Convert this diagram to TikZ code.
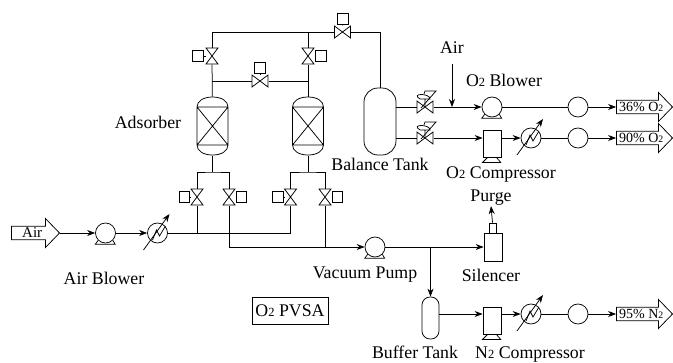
\documentclass[tikz,border=0pt]{standalone}
\usepackage{amsmath}
\usepackage{fontspec}
\setmainfont{Liberation Serif}
\usetikzlibrary{shapes,arrows.meta,positioning}

\newcommand{\twosub}{\scalebox{0.7}{2}}

\begin{document}
\begin{tikzpicture}[x=1pt, y=-1pt, line width=0.75pt, line join=miter]
    % Define styles
    \tikzstyle{arrow} = [-{Stealth[length=8pt,width=6pt]}]
    \tikzstyle{caption} = [inner sep=0pt, font=\fontsize{17.8}{20}\selectfont]
    \tikzstyle{stream} = [draw, single arrow, single arrow tip angle=92, single arrow head extend=6pt, inner sep=0pt, anchor=tip, font=\fontsize{14}{15}\selectfont]
    \tikzstyle{vvalve} = [inner sep=0pt, outer sep=-0.5pt, minimum width=14pt, minimum height=18pt, path picture={
        \draw[shift={(path picture bounding box.center)}, x=1pt, y=1pt] (-6,8) -- (6,8) -- (-6,-8) -- (6,-8) -- cycle;}]
    \tikzstyle{hvalve} = [inner sep=0pt, outer sep=-0.5pt, minimum width=18pt, minimum height=14pt, path picture={
        \draw[shift={(path picture bounding box.center)}, x=1pt, y=1pt] (-8,6) -- (-8,-6) -- (8,6) -- (8,-6) -- cycle;}]
    \tikzstyle{actuator} = [draw, rectangle, fill=white, inner sep=0pt, minimum size=10.5pt]
    \tikzstyle{adsorber} = [inner sep=0pt, outer sep=-0.5pt, minimum width=33pt, minimum height=60pt, path picture={
        \draw[shift={(path picture bounding box.center)}, x=1pt, y=1pt]
            (-15.5,19) .. controls (-15.5,25) and (-9,29) .. (0,29) .. controls (9,29) and (15.5,25) .. (15.5,19)
            -- (15.5,-19) .. controls (15.5,-25) and (9,-29) .. (0,-29) .. controls (-9,-29) and (-15.5,-25) .. (-15.5,-19) -- cycle
            (-15.5,19) -- (15.5,19) (-15.5,-19) -- (15.5,-19)
            (-15.5,19) -- (15.5,-19) (-15.5,-19) -- (15.5,19);}]
    \tikzstyle{tank} = [draw, rectangle, inner sep=0pt]
    \tikzstyle{rotor} = [draw, circle, inner sep=0pt, minimum size=20pt]
    \tikzstyle{casing} = [draw, rectangle, inner sep=0pt, minimum width=18pt, minimum height=27pt]

    \useasboundingbox (0,0) rectangle (673,362);

    % Nodes
    \node [vvalve] (vtopA) at (212,56) {};
    \node [vvalve] (vtopB) at (308,56) {};
    \node [hvalve] (vtop) at (342.5,32) {};
    \node [hvalve] (vmid) at (260,81) {};
    \node [adsorber] (adsA) at (212.5,126) {};
    \node [adsorber] (adsB) at (308,126) {};
    \node [vvalve] (vbotA) at (197,197) {};
    \node [vvalve] (vbotB) at (229,197) {};
    \node [vvalve] (vbotC) at (290.5,197) {};
    \node [vvalve] (vbotD) at (325,197) {};
    \node [actuator] (actA) at (198,56) {};
    \node [actuator] (actB) at (321,56) {};
    \node [actuator] (actTop) at (343,19) {};
    \node [actuator] (actMid) at (260,68) {};
    \node [actuator] (actC) at (184.5,197) {};
    \node [actuator] (actD) at (241.5,197) {};
    \node [actuator] (actE) at (278,197) {};
    \node [actuator] (actF) at (337.5,197) {};
    \node [tank, rounded corners=14pt, minimum width=32pt, minimum height=67pt] (balance) at (380,121.5) {};
    \node [tank, rounded corners=8pt, minimum width=17pt, minimum height=42pt] (buffer) at (430.5,318) {};
    \node [hvalve] (vblow) at (425,107) {};
    \node [hvalve] (vcomp) at (425,138) {};
    \node [stream, minimum width=29pt, minimum height=48pt, font=\fontsize{15}{15}\selectfont] (airIn) at (60,233) {Air};
    \node [rotor] (blowA) at (105.5,233) {};
    \node [rotor] (hxA) at (157.5,233) {};
    \node [rotor] (pumpV) at (375,247) {};
    \node [rotor] (blowO) at (492,107) {};
    \node [rotor] (meterA) at (578,107) {};
    \node [casing] (compO) at (492,143.5) {};
    \node [rotor] (hxO) at (531,138) {};
    \node [rotor] (meterB) at (578,138) {};
    \node [casing] (compN) at (492,320.5) {};
    \node [rotor] (hxN) at (531,314) {};
    \node [rotor] (meterC) at (578,314) {};
    \node [stream, minimum width=29pt, minimum height=56pt] (outA) at (673,107) {36\% O\twosub};
    \node [stream, minimum width=29pt, minimum height=56pt] (outB) at (673,138) {90\% O\twosub};
    \node [stream, minimum width=29pt, minimum height=56pt] (outC) at (673,314) {95\% N\twosub};
    \node [draw, rectangle, inner sep=0pt, minimum width=18pt, minimum height=28pt] (silencer) at (493,247) {};
    \node [draw, rectangle, inner sep=0pt, minimum width=7pt, minimum height=10pt] (neck) at (492.5,228) {};

    % Captions
    \node [caption] (adsLabel) at (148,122) {Adsorber};
    \node [caption] (balLabel) at (380,164) {Balance Tank};
    \node [caption] (airLabel) at (452,48) {Air};
    \node [caption] (blowOLabel) at (504,80) {O\twosub{} Blower};
    \node [caption] (compOLabel) at (501,174) {O\twosub{} Compressor};
    \node [caption] (purge) at (491,198) {Purge};
    \node [caption] (blowALabel) at (104,278) {Air Blower};
    \node [caption] (pumpLabel) at (365,275) {Vacuum Pump};
    \node [caption] (silLabel) at (491,275) {Silencer};
    \node [caption, anchor=base] (bufLabel) at (415,358) {Buffer Tank};
    \node [caption, anchor=base] (compNLabel) at (530,358) {N\twosub{} Compressor};
    \node [draw, rectangle, caption, minimum width=76pt, minimum height=27pt] (pvsa) at (290,310.5) {O\twosub{} PVSA};

    % Junctions
    \coordinate (topA) at (vtopA |- vtop);
    \coordinate (topB) at (vtopB |- vtop);
    \coordinate (midA) at (vtopA |- vmid);
    \coordinate (midB) at (vtopB |- vmid);
    \coordinate (hdrA) at (adsA |- 0,172);
    \coordinate (hdrB) at (adsB |- 0,172);
    \coordinate (airStart) at (452,64);
    \coordinate (airJoin) at (452,107);
    \coordinate (tee) at (buffer |- pumpV);

    % Pipes
    \draw (vtopA) -- (topA) -- (vtop);
    \draw (vtopB) -- (topB);
    \draw (vtop.east) -| (balance.north);
    \draw (vtopA) -- (adsA);
    \draw (vtopB) -- (adsB);
    \draw (midA) -- (vmid) -- (midB);
    \draw (adsA) -- (hdrA);
    \draw (adsB) -- (hdrB);
    \draw (vbotA) |- (hdrA) -| (vbotB);
    \draw (vbotC) |- (hdrB) -| (vbotD);
    \draw (actA) -- (vtopA);
    \draw (actB) -- (vtopB);
    \draw (actTop) -- (vtop);
    \draw (actMid) -- (vmid);
    \draw (actC) -- (vbotA);
    \draw (actD) -- (vbotB);
    \draw (actE) -- (vbotC);
    \draw (actF) -- (vbotD);
    \draw (hxA.east) -| (vbotC.south);
    \draw (vbotA.south) -- (vbotA |- hxA);
    \draw (vbotD.south) -- (vbotD |- pumpV);
    \draw (balance.east |- vblow) -- (vblow.west);
    \draw (balance.east |- vcomp) -- (vcomp.west);
    \draw (blowO) -- (meterA);
    \draw (hxO) -- (meterB);
    \draw (hxN) -- (meterC);

    % Arrows
    \draw [arrow] (airIn.tip) -- (blowA);
    \draw [arrow] (blowA) -- (hxA);
    \draw [arrow] (vbotB.south) |- (pumpV);
    \draw [arrow] (pumpV) -- (silencer.west |- pumpV);
    \draw [arrow] (tee) -- (buffer.north);
    \draw [arrow] (neck.north) -- (purge.south);
    \draw [arrow] (airStart) -- (airJoin);
    \draw [arrow] (vblow.east) -- (blowO);
    \draw [arrow] (vcomp.east) -- (compO.west |- vcomp);
    \draw [arrow] (compO.east |- hxO) -- (hxO);
    \draw [arrow] (buffer.east |- hxN) -- (compN.west |- hxN);
    \draw [arrow] (compN.east |- hxN) -- (hxN);
    \draw [arrow] (meterA) -- (outA.tail);
    \draw [arrow] (meterB) -- (outB.tail);
    \draw [arrow] (meterC) -- (outC.tail);

    % Valve heads
    \foreach \valve in {vblow, vcomp} {
        \draw (\valve.center) -- ++(0,-8) ++(-5,0) -- ++(10,0) .. controls ++(0,-6) and ++(-10,-6) .. ++(-10,0);
        \draw ([shift={(-4,1)}]\valve.center) -- ++(15,-17) -- ++(-11,0) -- ++(-1,3);
    }
    % Machine feet
    \foreach \pump in {blowA, pumpV, blowO} {
        \draw (\pump.south west) -- ++(-3,4) -- ++(20,0) -- (\pump.south east);
    }
    \foreach \comp in {compO, compN} {
        \draw ([xshift=5pt]\comp.south west) -- ++(-5,5) -- ++(18,0) -- ([xshift=-5pt]\comp.south east);
    }
    % Heat exchangers
    \foreach \hx in {hxA, hxO, hxN} {
        \draw ([shift={(-5,7)}]\hx.center) -- ([shift={(-1,-3)}]\hx.center) -- ([shift={(2,3)}]\hx.center) -- ([shift={(8,-7)}]\hx.center);
        \draw [arrow] ([shift={(-14,17)}]\hx.center) -- ([shift={(12,-19)}]\hx.center);
    }
\end{tikzpicture}
\end{document}
